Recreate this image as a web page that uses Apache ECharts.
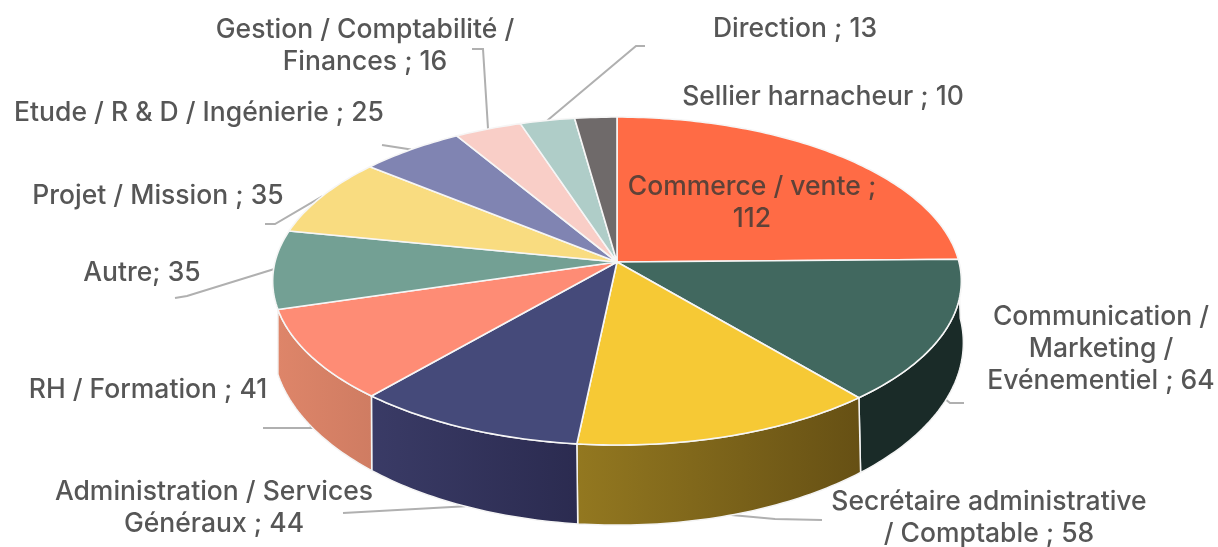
<!DOCTYPE html>
<html><head><meta charset="utf-8">
<style>html,body{margin:0;padding:0;background:#fff}#c{width:1218px;height:547px;filter:blur(0.7px)}</style>
<script src="https://cdn.jsdelivr.net/npm/echarts@6/dist/echarts.min.js"></script>
</head><body><div id="c"></div>
<script>
// --- data ---
const categories = ["Commerce / vente ;\n112","Communication /\nMarketing /\nEvénementiel ; 64","Secrétaire administrative\n/ Comptable ; 58","Administration / Services\nGénéraux ; 44","RH / Formation ; 41","Autre; 35","Projet / Mission ; 35","Etude / R & D / Ingénierie ; 25","Gestion / Comptabilité /\nFinances ; 16","Direction ; 13","Sellier harnacheur ; 10"];
const values = [112,64,58,44,41,35,35,25,16,13,10];
const topColors = ["#ff6b45","#41685f","#f6c935","#454a7a","#fe8c75","#73a094","#f9dc80","#8084b2","#f9cec7","#afcdc8","#6f6a6a"];
const wallLeft  = [null,"#1a2b28","#937820","#3a3b66","#de8569",null,null,null,null,null,null];
const wallRight = [null,"#1a2b28","#665014","#2b2b50","#cf7c62",null,null,null,null,null,null];
// --- layout (style only) ---
const labelPos = [[752,203],[1101,349],[989,518],[214,508],[148,390],[142,273],[158,196],[199,113],[365,46],[795,29],[823,97]];
const elbows = [null,[[950,403],[964,403]],[[775,519],[822,520]],[[343,513]],[[312,428],[263,428]],[[187,296],[175,298]],[[275,224],[265,224]],[[382,145]],[[483,49],[472,49]],[[636,46],[645,46]],null];
const top3d = {cx:617,cy:262,rx:342,ry:161.8,k:0.116};
const bot3d = {cx:618,cy:321.5,rx:343,ry:180,k:0.116};
const total = values.reduce((a,b)=>a+b,0);
function pt(g,deg){const t=deg*Math.PI/180,u=Math.sin(t),v=-Math.cos(t),s=1/(1-g.k*v);return [g.cx+g.rx*u*s,g.cy+g.ry*v*s];}
function arc(g,a,b){const n=Math.max(2,Math.ceil(Math.abs(b-a))),o=[];for(let i=0;i<=n;i++)o.push(pt(g,a+(b-a)*i/n));return o;}
function renderItem(params,api){
  const i=params.dataIndex,val=api.value(0);
  let before=0;for(let j=0;j<i;j++)before+=values[j];
  const a=before/total*360,b=(before+val)/total*360,mid=(a+b)/2,children=[];
  const topArc=arc(top3d,a,b);
  if(wallLeft[i]){
    const botArc=arc(bot3d,a,b).reverse();
    children.push({type:'polygon',z2:2,shape:{points:topArc.concat(botArc)},
      style:{fill:new echarts.graphic.LinearGradient(0,0,1,0,[{offset:0,color:wallLeft[i]},{offset:1,color:wallRight[i]}]),stroke:'#f4f4f4',lineWidth:1.5,lineJoin:'round'}});
  }
  children.push({type:'polygon',z2:3,shape:{points:[[top3d.cx,top3d.cy]].concat(topArc)},
    style:{fill:topColors[i],stroke:'#f6f6f6',lineWidth:1.6,lineJoin:'round'}});
  if(elbows[i]){
    const start=wallLeft[i]?pt(bot3d,mid):pt(top3d,mid);
    children.push({type:'polyline',z2:1,shape:{points:[start].concat(elbows[i])},style:{fill:null,stroke:'#b0b0b0',lineWidth:2}});
  }
  children.push({type:'text',z2:5,x:labelPos[i][0],y:labelPos[i][1],
    style:{text:categories[i],fill:i===0?'#5f4238':'#565656',font:'500 26.5px Inter',align:'center',verticalAlign:'middle',textAlign:'center',textVerticalAlign:'middle',lineHeight:32}});
  return {type:'group',children};
}
const chart=echarts.init(document.getElementById('c'),null,{renderer:'canvas'});
chart.setOption({animation:false,backgroundColor:'#fff',
  series:[{type:'custom',coordinateSystem:'none',renderItem,silent:true,clip:false,
    data:values.map((v,i)=>({name:categories[i],value:[v]}))}]});
</script></body></html>
